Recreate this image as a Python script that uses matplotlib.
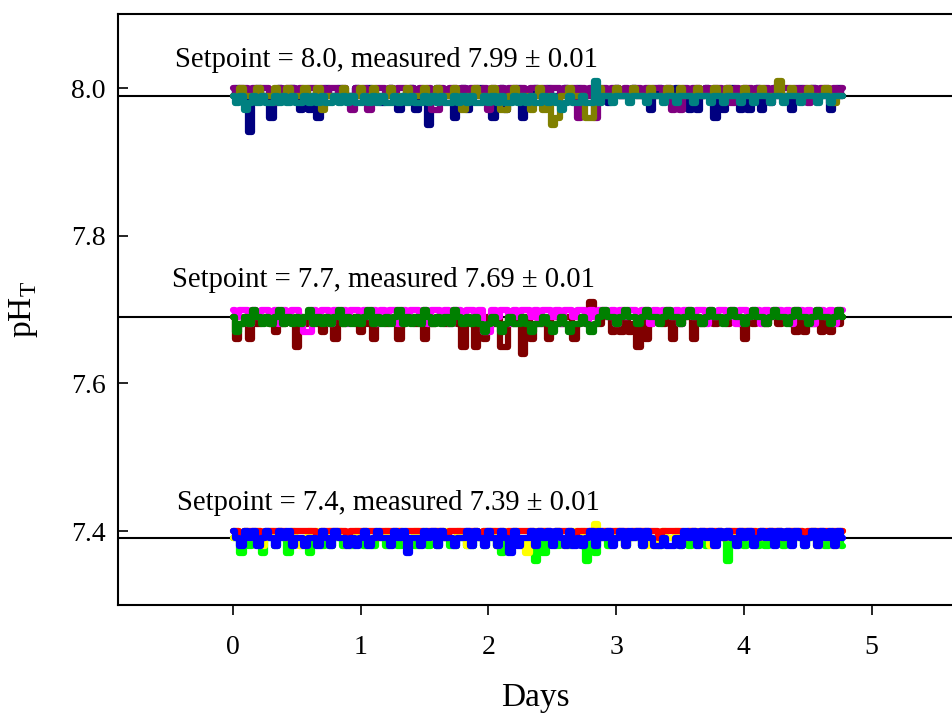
import matplotlib
matplotlib.use("Agg")
import matplotlib.pyplot as plt
import numpy as np

plt.rcParams['font.family'] = ['Liberation Serif', 'DejaVu Serif']
plt.rcParams['mathtext.fontset'] = 'custom'
plt.rcParams['mathtext.rm'] = 'Liberation Serif'

# sampling grid (days), 144 readings per tank
days = np.linspace(0, 4.78, 144)

# setpoint 8.0 tanks
ph80_navy = [7.99, 8.00, 7.99, 7.99, 7.94, 7.99, 8.00, 7.99, 7.99, 7.96, 7.99, 8.00,
             7.99, 7.99, 8.00, 7.99, 7.97, 7.99, 7.97, 7.99, 7.96, 7.99, 8.00, 7.99,
             7.99, 8.00, 7.99, 7.99, 7.99, 8.00, 7.99, 7.99, 8.00, 7.99, 7.99, 7.98,
             7.99, 8.00, 7.99, 7.97, 7.99, 7.99, 8.00, 7.97, 7.99, 7.99, 7.95, 7.99,
             8.00, 7.99, 7.99, 7.99, 7.96, 7.99, 8.00, 7.97, 7.99, 7.99, 8.00, 7.99,
             7.99, 7.96, 7.99, 8.00, 7.97, 7.99, 7.99, 8.00, 7.96, 7.99, 7.99, 8.00,
             7.99, 7.99, 8.00, 7.99, 7.99, 7.99, 8.00, 7.99, 7.99, 8.00, 7.99, 7.99,
             7.99, 8.00, 7.99, 7.99, 7.98, 7.99, 8.00, 7.99, 7.99, 7.99, 8.00, 7.99,
             7.99, 7.99, 7.97, 7.99, 8.00, 7.99, 7.99, 7.99, 8.00, 7.99, 7.99, 7.97,
             7.99, 7.97, 7.99, 8.00, 7.99, 7.96, 7.99, 7.97, 7.99, 8.00, 7.99, 7.97,
             7.99, 7.97, 7.99, 8.00, 7.97, 7.99, 7.99, 8.00, 7.99, 7.99, 7.99, 7.97,
             7.99, 8.00, 7.99, 7.99, 8.00, 7.99, 7.99, 7.99, 7.97, 7.99, 8.00, 7.99]
ph80_purple = [8.00, 7.99, 8.00, 8.00, 7.99, 8.00, 7.99, 8.00, 8.00, 7.99, 7.98, 8.00,
               7.99, 8.00, 8.00, 7.99, 8.00, 7.99, 8.00, 8.00, 7.99, 8.00, 7.99, 8.00,
               8.00, 7.99, 8.00, 7.99, 7.97, 8.00, 7.99, 8.00, 7.97, 7.99, 8.00, 8.00,
               7.99, 8.00, 7.99, 8.00, 8.00, 7.99, 8.00, 7.99, 8.00, 7.99, 8.00, 7.97,
               7.97, 8.00, 7.99, 8.00, 8.00, 7.99, 8.00, 7.99, 8.00, 8.00, 7.99, 8.00,
               7.97, 8.00, 7.99, 8.00, 7.99, 8.00, 8.00, 7.99, 8.00, 7.99, 8.00, 8.00,
               7.99, 8.00, 7.99, 8.00, 8.00, 7.99, 8.00, 7.99, 8.00, 7.96, 8.00, 7.99,
               8.00, 7.96, 7.99, 8.00, 7.99, 8.00, 8.00, 7.99, 8.00, 7.99, 8.00, 8.00,
               7.99, 8.00, 7.99, 8.00, 8.00, 7.99, 8.00, 7.97, 7.99, 7.97, 8.00, 7.99,
               8.00, 8.00, 7.99, 8.00, 7.99, 8.00, 8.00, 7.99, 8.00, 7.98, 8.00, 7.99,
               8.00, 8.00, 7.99, 8.00, 7.99, 8.00, 7.98, 8.00, 7.99, 8.00, 8.00, 7.99,
               8.00, 7.99, 8.00, 7.98, 8.00, 7.99, 8.00, 8.00, 7.99, 8.00, 7.99, 8.00]
ph80_olive = [7.99, 7.99, 8.00, 7.99, 7.99, 7.99, 8.00, 7.99, 7.99, 7.99, 8.00, 7.99,
              7.99, 8.00, 7.99, 7.99, 7.99, 8.00, 7.99, 7.99, 8.00, 7.97, 7.99, 7.99,
              7.99, 7.99, 8.00, 7.99, 7.99, 7.99, 8.00, 7.99, 7.99, 8.00, 7.99, 7.99,
              7.99, 8.00, 7.99, 7.99, 7.99, 8.00, 7.99, 7.99, 7.99, 8.00, 7.99, 7.99,
              8.00, 7.99, 7.99, 7.99, 8.00, 7.99, 7.97, 7.99, 7.99, 8.00, 7.99, 7.99,
              7.99, 8.00, 7.99, 7.97, 7.97, 7.99, 8.00, 7.99, 7.99, 7.99, 7.97, 7.99,
              8.00, 7.97, 7.99, 7.95, 7.96, 7.99, 7.99, 8.00, 7.99, 7.99, 7.99, 7.96,
              7.96, 7.99, 8.00, 7.99, 7.99, 7.99, 8.00, 7.99, 7.99, 7.99, 8.00, 7.99,
              7.99, 7.99, 8.00, 7.99, 7.99, 7.99, 8.00, 7.99, 7.99, 8.00, 7.99, 7.99,
              7.99, 8.00, 7.99, 7.99, 7.99, 8.00, 7.99, 7.99, 8.00, 7.99, 7.99, 7.99,
              8.00, 7.99, 7.99, 7.99, 8.00, 7.99, 7.99, 7.99, 8.01, 7.99, 7.99, 8.00,
              7.99, 7.99, 7.99, 8.00, 7.99, 7.99, 7.99, 8.00, 7.99, 7.98, 7.99, 7.99]
ph80_teal = [7.99, 7.98, 7.99, 7.97, 7.98, 7.99, 7.98, 7.99, 7.98, 7.98, 7.99, 7.98,
             7.99, 7.98, 7.99, 7.98, 7.98, 7.99, 7.98, 7.99, 7.98, 7.99, 7.98, 7.98,
             7.99, 7.98, 7.99, 7.98, 7.99, 7.98, 7.98, 7.99, 7.98, 7.99, 7.98, 7.99,
             7.98, 7.98, 7.99, 7.98, 7.99, 7.98, 7.99, 7.98, 7.98, 7.99, 7.98, 7.99,
             7.98, 7.99, 7.98, 7.98, 7.99, 7.98, 7.99, 7.98, 7.99, 7.98, 7.98, 7.99,
             7.98, 7.99, 7.98, 7.99, 7.98, 7.98, 7.99, 7.98, 7.99, 7.98, 7.99, 7.98,
             7.98, 7.99, 7.98, 7.99, 7.98, 7.97, 7.98, 7.99, 7.98, 7.98, 7.99, 7.98,
             7.98, 8.01, 7.98, 7.99, 7.99, 7.98, 7.99, 7.99, 7.99, 7.98, 7.99, 7.99,
             7.99, 7.98, 7.99, 7.99, 7.99, 7.98, 7.99, 7.99, 7.98, 7.99, 7.99, 7.99,
             7.98, 7.99, 7.99, 7.99, 7.98, 7.99, 7.99, 7.98, 7.99, 7.99, 7.99, 7.98,
             7.99, 7.99, 7.98, 7.99, 7.99, 7.99, 7.98, 7.99, 7.99, 7.98, 7.99, 7.99,
             7.99, 7.98, 7.99, 7.99, 7.99, 7.98, 7.99, 7.99, 7.98, 7.99, 7.99, 7.99]

# setpoint 7.7 tanks
ph77_maroon = [7.69, 7.66, 7.68, 7.69, 7.66, 7.69, 7.68, 7.69, 7.69, 7.68, 7.67, 7.69,
               7.68, 7.69, 7.69, 7.65, 7.69, 7.68, 7.69, 7.69, 7.68, 7.67, 7.69, 7.68,
               7.66, 7.69, 7.68, 7.69, 7.69, 7.68, 7.67, 7.69, 7.68, 7.66, 7.69, 7.69,
               7.68, 7.69, 7.69, 7.66, 7.68, 7.69, 7.69, 7.68, 7.69, 7.66, 7.69, 7.68,
               7.69, 7.69, 7.68, 7.69, 7.69, 7.68, 7.65, 7.69, 7.68, 7.65, 7.69, 7.66,
               7.69, 7.68, 7.69, 7.65, 7.65, 7.69, 7.68, 7.69, 7.64, 7.69, 7.66, 7.68,
               7.69, 7.68, 7.66, 7.69, 7.69, 7.68, 7.69, 7.69, 7.66, 7.68, 7.69, 7.69,
               7.71, 7.69, 7.68, 7.69, 7.69, 7.67, 7.69, 7.67, 7.69, 7.67, 7.68, 7.65,
               7.69, 7.66, 7.68, 7.69, 7.69, 7.68, 7.69, 7.66, 7.69, 7.68, 7.69, 7.69,
               7.66, 7.69, 7.68, 7.69, 7.69, 7.68, 7.69, 7.69, 7.68, 7.69, 7.69, 7.68,
               7.66, 7.69, 7.68, 7.69, 7.69, 7.68, 7.69, 7.69, 7.68, 7.69, 7.69, 7.68,
               7.67, 7.69, 7.67, 7.69, 7.68, 7.69, 7.67, 7.69, 7.67, 7.69, 7.68, 7.69]
ph77_magenta = [7.70, 7.69, 7.70, 7.70, 7.68, 7.70, 7.69, 7.70, 7.70, 7.69, 7.70, 7.68,
                7.70, 7.69, 7.70, 7.70, 7.69, 7.67, 7.67, 7.70, 7.69, 7.70, 7.70, 7.68,
                7.70, 7.69, 7.70, 7.68, 7.70, 7.70, 7.69, 7.70, 7.69, 7.70, 7.68, 7.70,
                7.69, 7.70, 7.70, 7.68, 7.70, 7.69, 7.70, 7.70, 7.69, 7.70, 7.68, 7.70,
                7.70, 7.69, 7.70, 7.68, 7.70, 7.70, 7.69, 7.70, 7.70, 7.69, 7.70, 7.67,
                7.67, 7.70, 7.69, 7.70, 7.70, 7.68, 7.70, 7.69, 7.70, 7.70, 7.69, 7.70,
                7.68, 7.70, 7.70, 7.69, 7.70, 7.68, 7.70, 7.70, 7.69, 7.70, 7.70, 7.68,
                7.70, 7.69, 7.70, 7.70, 7.69, 7.70, 7.68, 7.70, 7.69, 7.70, 7.70, 7.69,
                7.70, 7.70, 7.68, 7.70, 7.69, 7.70, 7.70, 7.69, 7.70, 7.68, 7.70, 7.70,
                7.69, 7.70, 7.70, 7.68, 7.70, 7.69, 7.70, 7.70, 7.69, 7.70, 7.68, 7.70,
                7.70, 7.69, 7.70, 7.70, 7.68, 7.70, 7.69, 7.70, 7.70, 7.69, 7.70, 7.68,
                7.70, 7.70, 7.69, 7.70, 7.68, 7.70, 7.70, 7.69, 7.70, 7.68, 7.70, 7.70]
ph77_green = [7.69, 7.67, 7.68, 7.69, 7.68, 7.70, 7.69, 7.68, 7.69, 7.68, 7.69, 7.70,
              7.68, 7.69, 7.68, 7.69, 7.68, 7.69, 7.70, 7.68, 7.69, 7.68, 7.69, 7.68,
              7.69, 7.70, 7.68, 7.69, 7.68, 7.69, 7.68, 7.69, 7.70, 7.68, 7.69, 7.68,
              7.69, 7.68, 7.69, 7.70, 7.68, 7.69, 7.68, 7.69, 7.68, 7.70, 7.69, 7.68,
              7.69, 7.68, 7.69, 7.68, 7.70, 7.69, 7.68, 7.69, 7.68, 7.69, 7.68, 7.67,
              7.68, 7.69, 7.68, 7.67, 7.68, 7.69, 7.68, 7.68, 7.69, 7.68, 7.67, 7.68,
              7.68, 7.69, 7.68, 7.67, 7.68, 7.69, 7.68, 7.67, 7.68, 7.68, 7.69, 7.68,
              7.67, 7.68, 7.69, 7.70, 7.69, 7.69, 7.68, 7.69, 7.70, 7.69, 7.69, 7.68,
              7.69, 7.70, 7.69, 7.69, 7.68, 7.69, 7.70, 7.69, 7.69, 7.68, 7.69, 7.70,
              7.69, 7.69, 7.68, 7.69, 7.70, 7.69, 7.69, 7.68, 7.69, 7.70, 7.69, 7.69,
              7.68, 7.69, 7.70, 7.69, 7.69, 7.68, 7.69, 7.70, 7.69, 7.69, 7.68, 7.69,
              7.70, 7.69, 7.69, 7.68, 7.69, 7.70, 7.69, 7.69, 7.68, 7.69, 7.70, 7.69]

# setpoint 7.4 tanks
ph74_lime = [7.39, 7.39, 7.37, 7.39, 7.38, 7.39, 7.39, 7.37, 7.39, 7.39, 7.38, 7.39,
             7.39, 7.37, 7.39, 7.39, 7.38, 7.39, 7.37, 7.39, 7.39, 7.38, 7.39, 7.38,
             7.39, 7.39, 7.38, 7.39, 7.38, 7.39, 7.39, 7.38, 7.39, 7.38, 7.39, 7.39,
             7.38, 7.39, 7.39, 7.38, 7.39, 7.39, 7.39, 7.38, 7.39, 7.39, 7.38, 7.39,
             7.38, 7.39, 7.39, 7.38, 7.38, 7.39, 7.39, 7.38, 7.38, 7.39, 7.39, 7.38,
             7.39, 7.39, 7.38, 7.37, 7.39, 7.38, 7.39, 7.39, 7.38, 7.39, 7.39, 7.36,
             7.39, 7.37, 7.39, 7.39, 7.38, 7.39, 7.39, 7.38, 7.39, 7.39, 7.38, 7.36,
             7.39, 7.37, 7.39, 7.39, 7.38, 7.39, 7.39, 7.39, 7.38, 7.39, 7.39, 7.39,
             7.38, 7.39, 7.39, 7.39, 7.38, 7.39, 7.39, 7.39, 7.39, 7.38, 7.39, 7.38,
             7.39, 7.39, 7.39, 7.38, 7.39, 7.39, 7.39, 7.39, 7.36, 7.39, 7.39, 7.39,
             7.38, 7.39, 7.39, 7.38, 7.39, 7.38, 7.39, 7.39, 7.39, 7.38, 7.39, 7.39,
             7.39, 7.39, 7.38, 7.39, 7.39, 7.39, 7.39, 7.38, 7.39, 7.39, 7.39, 7.38]
ph74_yellow = [7.39, 7.40, 7.39, 7.40, 7.39, 7.39, 7.40, 7.38, 7.39, 7.40, 7.39, 7.40,
               7.39, 7.39, 7.40, 7.39, 7.38, 7.39, 7.40, 7.39, 7.40, 7.39, 7.39, 7.40,
               7.39, 7.40, 7.39, 7.38, 7.39, 7.40, 7.39, 7.40, 7.39, 7.39, 7.40, 7.39,
               7.40, 7.39, 7.39, 7.40, 7.39, 7.38, 7.39, 7.40, 7.39, 7.40, 7.39, 7.39,
               7.40, 7.39, 7.40, 7.39, 7.39, 7.40, 7.39, 7.38, 7.39, 7.40, 7.39, 7.40,
               7.39, 7.40, 7.38, 7.39, 7.40, 7.39, 7.40, 7.39, 7.39, 7.37, 7.39, 7.40,
               7.39, 7.40, 7.39, 7.39, 7.40, 7.39, 7.38, 7.39, 7.40, 7.39, 7.40, 7.39,
               7.39, 7.41, 7.39, 7.40, 7.39, 7.39, 7.40, 7.39, 7.38, 7.39, 7.40, 7.39,
               7.40, 7.38, 7.39, 7.38, 7.39, 7.40, 7.39, 7.39, 7.40, 7.39, 7.39, 7.40,
               7.39, 7.40, 7.39, 7.39, 7.38, 7.39, 7.40, 7.39, 7.39, 7.40, 7.39, 7.39,
               7.40, 7.39, 7.39, 7.40, 7.39, 7.39, 7.40, 7.39, 7.40, 7.39, 7.39, 7.40,
               7.39, 7.40, 7.39, 7.39, 7.40, 7.38, 7.39, 7.39, 7.40, 7.38, 7.39, 7.40]
ph74_red = [7.40, 7.40, 7.39, 7.40, 7.40, 7.40, 7.40, 7.39, 7.40, 7.40, 7.40, 7.40,
            7.40, 7.39, 7.40, 7.40, 7.40, 7.40, 7.40, 7.40, 7.39, 7.40, 7.40, 7.40,
            7.40, 7.40, 7.40, 7.39, 7.40, 7.40, 7.40, 7.40, 7.40, 7.40, 7.39, 7.40,
            7.40, 7.40, 7.40, 7.40, 7.39, 7.40, 7.40, 7.40, 7.40, 7.39, 7.40, 7.40,
            7.40, 7.40, 7.39, 7.40, 7.40, 7.40, 7.40, 7.40, 7.40, 7.40, 7.39, 7.40,
            7.40, 7.40, 7.40, 7.40, 7.39, 7.40, 7.40, 7.40, 7.40, 7.40, 7.40, 7.39,
            7.40, 7.40, 7.40, 7.39, 7.40, 7.40, 7.40, 7.40, 7.39, 7.40, 7.40, 7.40,
            7.40, 7.40, 7.39, 7.40, 7.40, 7.40, 7.40, 7.40, 7.40, 7.39, 7.40, 7.40,
            7.40, 7.40, 7.40, 7.40, 7.39, 7.40, 7.40, 7.40, 7.40, 7.40, 7.39, 7.40,
            7.40, 7.39, 7.40, 7.40, 7.40, 7.40, 7.40, 7.39, 7.40, 7.40, 7.40, 7.40,
            7.40, 7.40, 7.40, 7.39, 7.40, 7.40, 7.40, 7.40, 7.40, 7.39, 7.40, 7.40,
            7.40, 7.40, 7.39, 7.40, 7.40, 7.40, 7.40, 7.40, 7.39, 7.40, 7.40, 7.40]
ph74_blue = [7.40, 7.39, 7.38, 7.40, 7.39, 7.40, 7.38, 7.39, 7.40, 7.39, 7.38, 7.40,
             7.39, 7.40, 7.38, 7.39, 7.39, 7.38, 7.39, 7.39, 7.38, 7.40, 7.39, 7.38,
             7.40, 7.39, 7.39, 7.38, 7.39, 7.38, 7.39, 7.40, 7.38, 7.39, 7.40, 7.39,
             7.39, 7.38, 7.40, 7.39, 7.40, 7.37, 7.39, 7.39, 7.38, 7.40, 7.39, 7.40,
             7.38, 7.40, 7.39, 7.39, 7.38, 7.39, 7.39, 7.40, 7.38, 7.40, 7.39, 7.38,
             7.40, 7.39, 7.38, 7.40, 7.39, 7.37, 7.40, 7.38, 7.39, 7.39, 7.40, 7.38,
             7.40, 7.39, 7.40, 7.38, 7.40, 7.39, 7.38, 7.40, 7.38, 7.39, 7.38, 7.39,
             7.40, 7.38, 7.40, 7.39, 7.40, 7.38, 7.39, 7.40, 7.38, 7.40, 7.39, 7.40,
             7.38, 7.40, 7.39, 7.38, 7.38, 7.39, 7.38, 7.38, 7.39, 7.38, 7.40, 7.39,
             7.40, 7.38, 7.40, 7.39, 7.40, 7.38, 7.40, 7.39, 7.40, 7.39, 7.38, 7.40,
             7.39, 7.40, 7.38, 7.39, 7.40, 7.39, 7.40, 7.38, 7.40, 7.39, 7.40, 7.38,
             7.40, 7.39, 7.38, 7.39, 7.40, 7.38, 7.40, 7.39, 7.40, 7.38, 7.40, 7.39]

# drawn in this order, last one on top
series = [
    (ph80_navy, '#000080'), (ph80_purple, '#800080'),
    (ph80_olive, '#808000'), (ph80_teal, '#008080'),
    (ph77_maroon, '#800000'), (ph77_magenta, '#FF00FF'), (ph77_green, '#008000'),
    (ph74_lime, '#00FF00'), (ph74_yellow, '#FFFF00'),
    (ph74_red, '#FF0000'), (ph74_blue, '#0000FF'),
]

measured_means = [7.99, 7.69, 7.39]
labels = ['Setpoint = 8.0, measured 7.99 \u00b1 0.01',
          'Setpoint = 7.7, measured 7.69 \u00b1 0.01',
          'Setpoint = 7.4, measured 7.39 \u00b1 0.01']
label_x = [-0.455, -0.478, -0.44]
label_y = [8.028, 7.731, 7.429]

fig = plt.figure(figsize=(9.52, 7.15), dpi=100)
ax = fig.add_axes([0.124, 0.154, 0.876, 0.826])

for vals, col in series:
    ax.plot(days, vals, color=col, lw=4.5, drawstyle='steps-mid',
            solid_joinstyle='round', solid_capstyle='round', zorder=2)

for m in measured_means:
    ax.axhline(m, color='black', lw=1.5, zorder=1)

for x, y, s in zip(label_x, label_y, labels):
    ax.text(x, y, s, fontsize=20.6, ha='left', va='baseline')

ax.set_xlim(-0.9, 5.63)
ax.set_ylim(7.3, 8.1)
ax.set_xticks([0, 1, 2, 3, 4, 5])
ax.set_yticks([7.4, 7.6, 7.8, 8.0])
ax.set_yticklabels(['7.4', '7.6', '7.8', '8.0'])
ax.tick_params(axis='y', direction='in', length=7, width=1.2, labelsize=20, pad=9)
ax.tick_params(axis='x', direction='out', length=7, width=1.2, labelsize=20, pad=15)
ax.spines['right'].set_visible(False)
for sp in ['left', 'top', 'bottom']:
    ax.spines[sp].set_linewidth(1.5)

ax.set_xlabel('Days', fontsize=24, labelpad=16)
ax.set_ylabel(r'pH$_{\rm T}$', fontsize=24, labelpad=22)

fig.savefig('out.png', dpi=100)
